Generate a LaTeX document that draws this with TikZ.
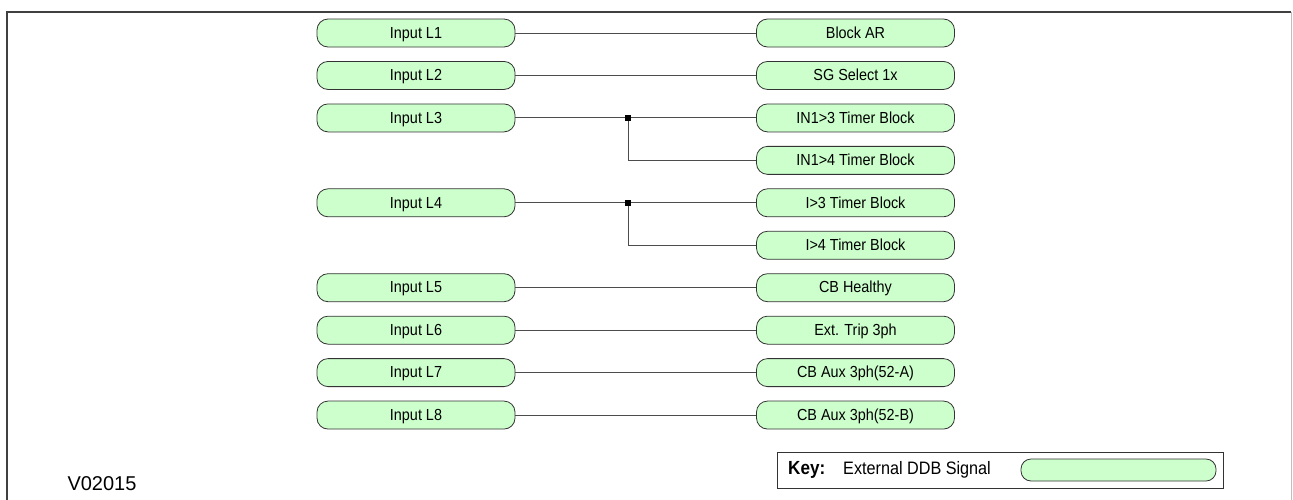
\documentclass[tikz,border=0pt]{standalone}
\usepackage{fontspec}
\setmainfont{Liberation Sans}
\newfontfamily\narrowfam[FakeStretch=0.9]{Liberation Sans}
\definecolor{sgreen}{HTML}{CCFFCC}
\begin{document}
\begin{tikzpicture}[x=1pt,y=-1pt,
  sig/.style={draw=black!80, fill=sgreen, rounded corners=11pt, minimum width=198pt,
    minimum height=28pt, inner sep=0pt, line width=0.8pt,
    text height=12pt, text depth=1.5pt,
    font=\narrowfam\fontsize{16}{18}\selectfont},
  wire/.style={draw=black!70, line width=1pt},
  junc/.style={fill=black, minimum size=6pt, inner sep=0pt}]
\useasboundingbox (0,0) rectangle (1293,499);
% frame
\draw[black!75, line width=1.6pt] (7,520) -- (7,12) -- (1291,12);
\draw[black!25, line width=1pt] (1291,12) -- (1291,520);
% left nodes
\node[sig] (L1) at (416,33) {Input L1};
\node[sig] (L2) at (416,75.45) {Input L2};
\node[sig] (L3) at (416,117.9) {Input L3};
\node[sig] (L4) at (416,202.8) {Input L4};
\node[sig] (L5) at (416,287.7) {Input L5};
\node[sig] (L6) at (416,330.15) {Input L6};
\node[sig] (L7) at (416,372.6) {Input L7};
\node[sig] (L8) at (416,415.05) {Input L8};
% right nodes
\node[sig] (R1) at (855.5,33) {Block AR};
\node[sig] (R2) at (855.5,75.45) {SG Select 1x};
\node[sig] (R3) at (855.5,117.9) {IN1>3 Timer Block};
\node[sig] (R4) at (855.5,160.35) {IN1>4 Timer Block};
\node[sig] (R5) at (855.5,202.8) {I>3 Timer Block};
\node[sig] (R6) at (855.5,245.25) {I>4 Timer Block};
\node[sig] (R7) at (855.5,287.7) {CB Healthy};
\node[sig] (R8) at (855.5,330.15) {Ext. Trip 3ph};
\node[sig] (R9) at (855.5,372.6) {CB Aux 3ph(52-A)};
\node[sig] (R10) at (855.5,415.05) {CB Aux 3ph(52-B)};
% junctions
\node[junc] (J1) at (628,117.9) {};
\node[junc] (J2) at (628,202.8) {};
% wires
\draw[wire] (L1) -- (R1);
\draw[wire] (L2) -- (R2);
\draw[wire] (L3) -- (R3);
\draw[wire] (J1.center) |- (R4);
\draw[wire] (L4) -- (R5);
\draw[wire] (J2.center) |- (R6);
\draw[wire] (L5) -- (R7);
\draw[wire] (L6) -- (R8);
\draw[wire] (L7) -- (R9);
\draw[wire] (L8) -- (R10);
\node[junc] at (J1) {};
\node[junc] at (J2) {};
% key
\node[draw=black!80, line width=0.8pt, minimum width=446pt, minimum height=36pt, inner sep=0pt] (key) at (1000,470) {};
\node[anchor=west, inner sep=0pt, font=\narrowfam\fontsize{19}{21}\selectfont\bfseries] (keylbl) at (788,470) {Key:};
\node[anchor=west, inner sep=0pt, font=\narrowfam\fontsize{18}{20}\selectfont] (keytxt) at (843,470) {External DDB Signal};
\node[sig, minimum width=195pt, minimum height=22pt, rounded corners=10pt] (keysig) at (1118.5,470) {};
% version
\node[inner sep=0pt, font=\fontsize{20}{22}\selectfont] (ver) at (102,484) {V02015};
\end{tikzpicture}
\end{document}
